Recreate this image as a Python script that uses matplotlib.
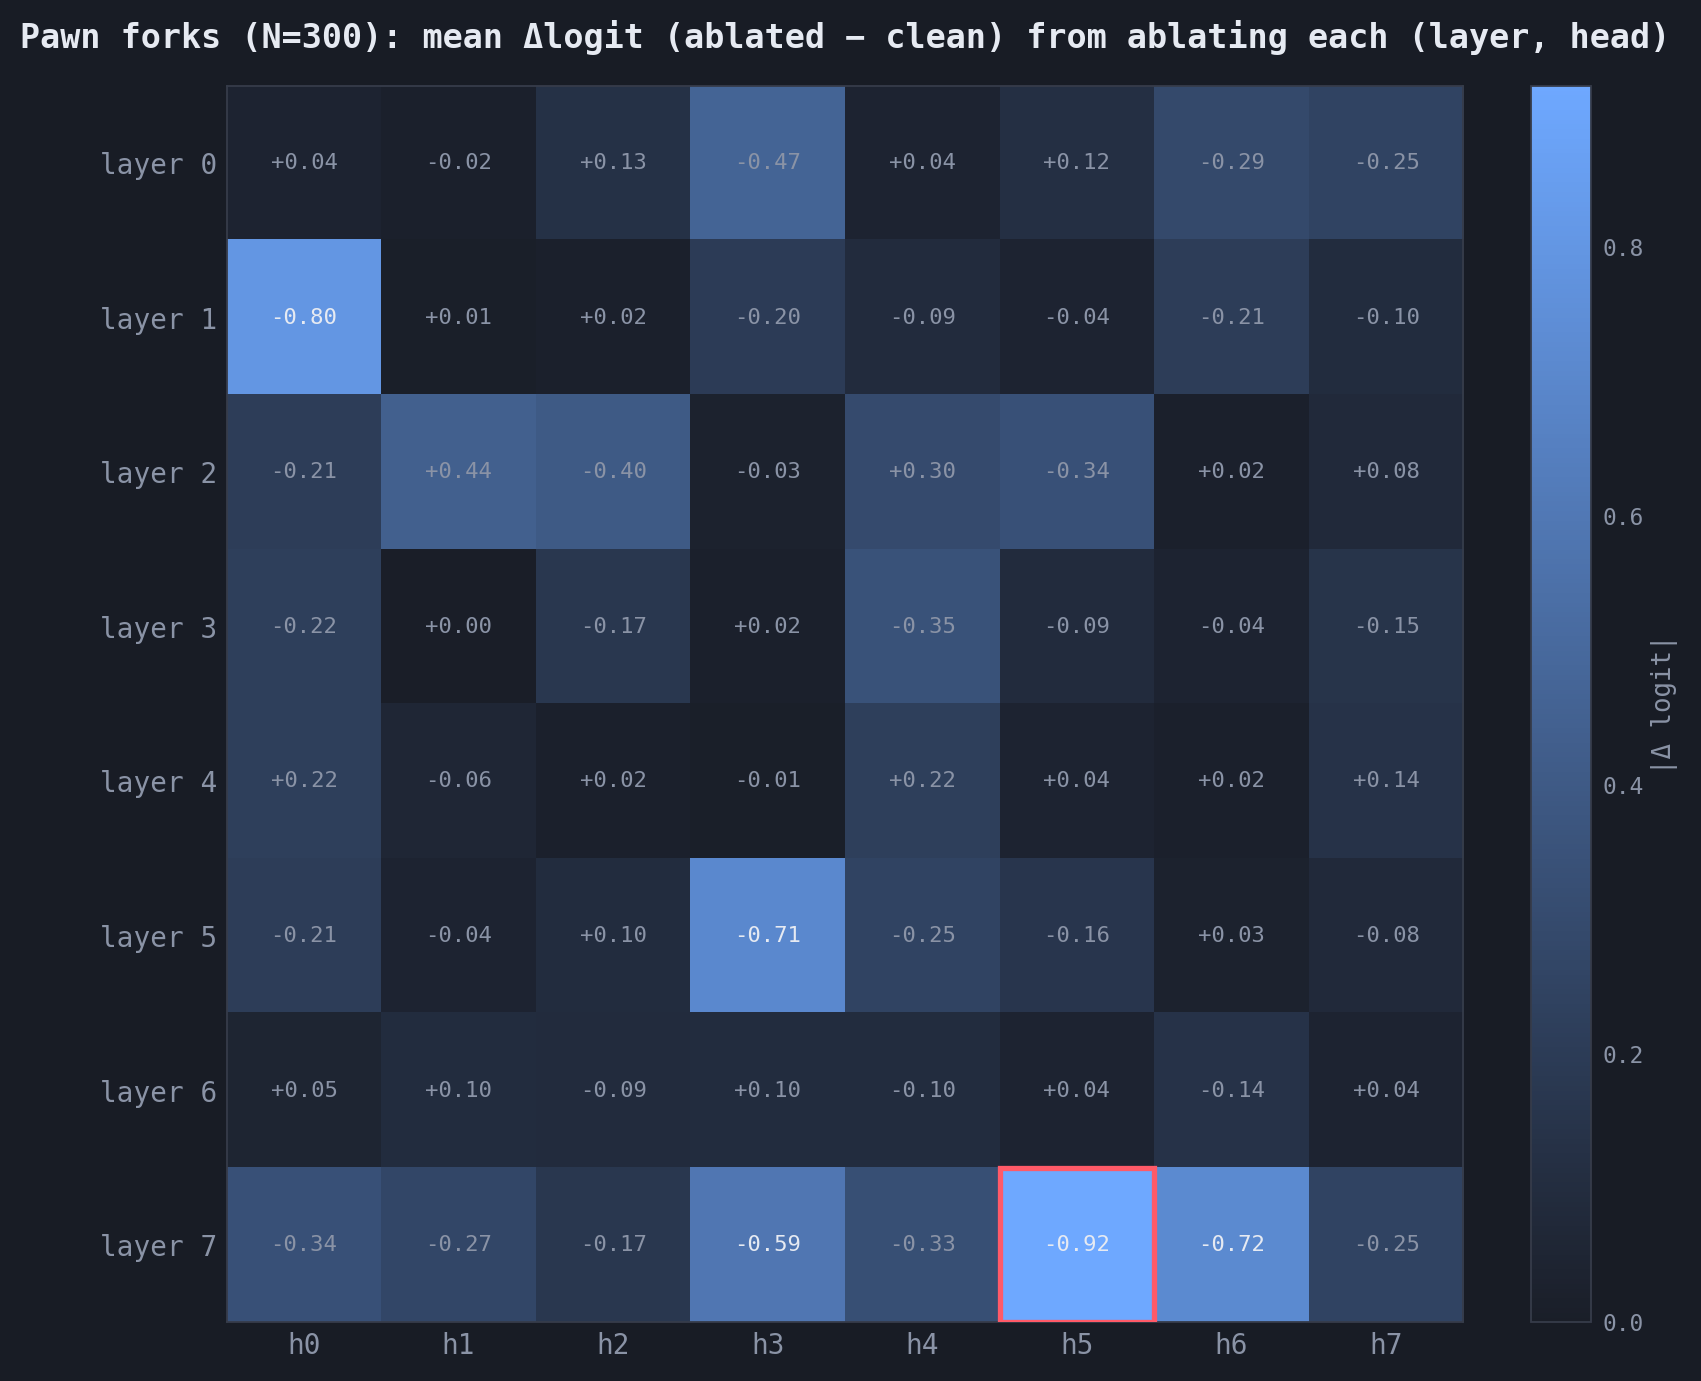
import matplotlib
matplotlib.use("Agg")
import matplotlib.pyplot as plt
from matplotlib.colors import LinearSegmentedColormap
from matplotlib.patches import Rectangle
import numpy as np

# mean delta logit per (layer, head)
layers = ["layer 0", "layer 1", "layer 2", "layer 3", "layer 4", "layer 5", "layer 6", "layer 7"]
heads = ["h0", "h1", "h2", "h3", "h4", "h5", "h6", "h7"]
layer0 = [0.04, -0.02, 0.13, -0.47, 0.04, 0.12, -0.29, -0.25]
layer1 = [-0.80, 0.01, 0.02, -0.20, -0.09, -0.04, -0.21, -0.10]
layer2 = [-0.21, 0.44, -0.40, -0.03, 0.30, -0.34, 0.02, 0.08]
layer3 = [-0.22, 0.00, -0.17, 0.02, -0.35, -0.09, -0.04, -0.15]
layer4 = [0.22, -0.06, 0.02, -0.01, 0.22, 0.04, 0.02, 0.14]
layer5 = [-0.21, -0.04, 0.10, -0.71, -0.25, -0.16, 0.03, -0.08]
layer6 = [0.05, 0.10, -0.09, 0.10, -0.10, 0.04, -0.14, 0.04]
layer7 = [-0.34, -0.27, -0.17, -0.59, -0.33, -0.92, -0.72, -0.25]
highlight = (7, 5)  # (layer, head)

BG = "#181c25"
FG = "#e6eaf2"
MUTED = "#8a93a6"
SPINE = "#363c4a"

delta = np.array([layer0, layer1, layer2, layer3, layer4, layer5, layer6, layer7])
mag = np.abs(delta)
vmax = mag.max()

cmap = LinearSegmentedColormap.from_list("dk_blue", ["#1a1e28", "#6ea8ff"])

plt.rcParams['font.family'] = ['DejaVu Sans Mono']
fig = plt.figure(figsize=(17.01, 13.81), dpi=100, facecolor=BG)
ax = fig.add_axes([0.1333, 0.0424, 0.727, 0.8955])
cax = fig.add_axes([0.8999, 0.0424, 0.0357, 0.8955])
ax.set_facecolor(BG)

im = ax.imshow(mag, cmap=cmap, vmin=0, vmax=vmax, aspect="auto")

for i in range(len(layers)):
    for j in range(len(heads)):
        v = delta[i, j]
        col = FG if abs(v) > 0.55 * vmax else MUTED
        ax.text(j, i, f"{v:+.2f}", ha="center", va="center", color=col, fontsize=16)

li, hj = highlight
ax.add_patch(Rectangle((hj - 0.5, li - 0.5), 1, 1, fill=False,
                       edgecolor="#ff5a68", linewidth=3.8, zorder=5))

ax.set_xticks(range(len(heads)))
ax.set_xticklabels(heads)
ax.set_yticks(range(len(layers)))
ax.set_yticklabels(layers)
ax.tick_params(length=0, colors=MUTED, labelsize=20, pad=7)
for s in ax.spines.values():
    s.set_color(SPINE)
    s.set_linewidth(1.3)

ax.set_title("Pawn forks (N=300): mean \u0394logit (ablated \u2212 clean) from ablating each (layer, head)",
             color=FG, fontsize=24, fontweight="bold", pad=27)

cb = fig.colorbar(im, cax=cax)
cb.set_ticks([0.0, 0.2, 0.4, 0.6, 0.8])
cb.ax.tick_params(length=0, colors=MUTED, labelsize=16.5, pad=8)
cb.outline.set_edgecolor(SPINE)
cb.outline.set_linewidth(1.3)
cb.set_label("|\u0394 logit|", color=MUTED, fontsize=18.5)
cb.ax.yaxis.set_label_coords(1.98, 0.5)

fig.savefig("out.png", dpi=100, facecolor=BG)
